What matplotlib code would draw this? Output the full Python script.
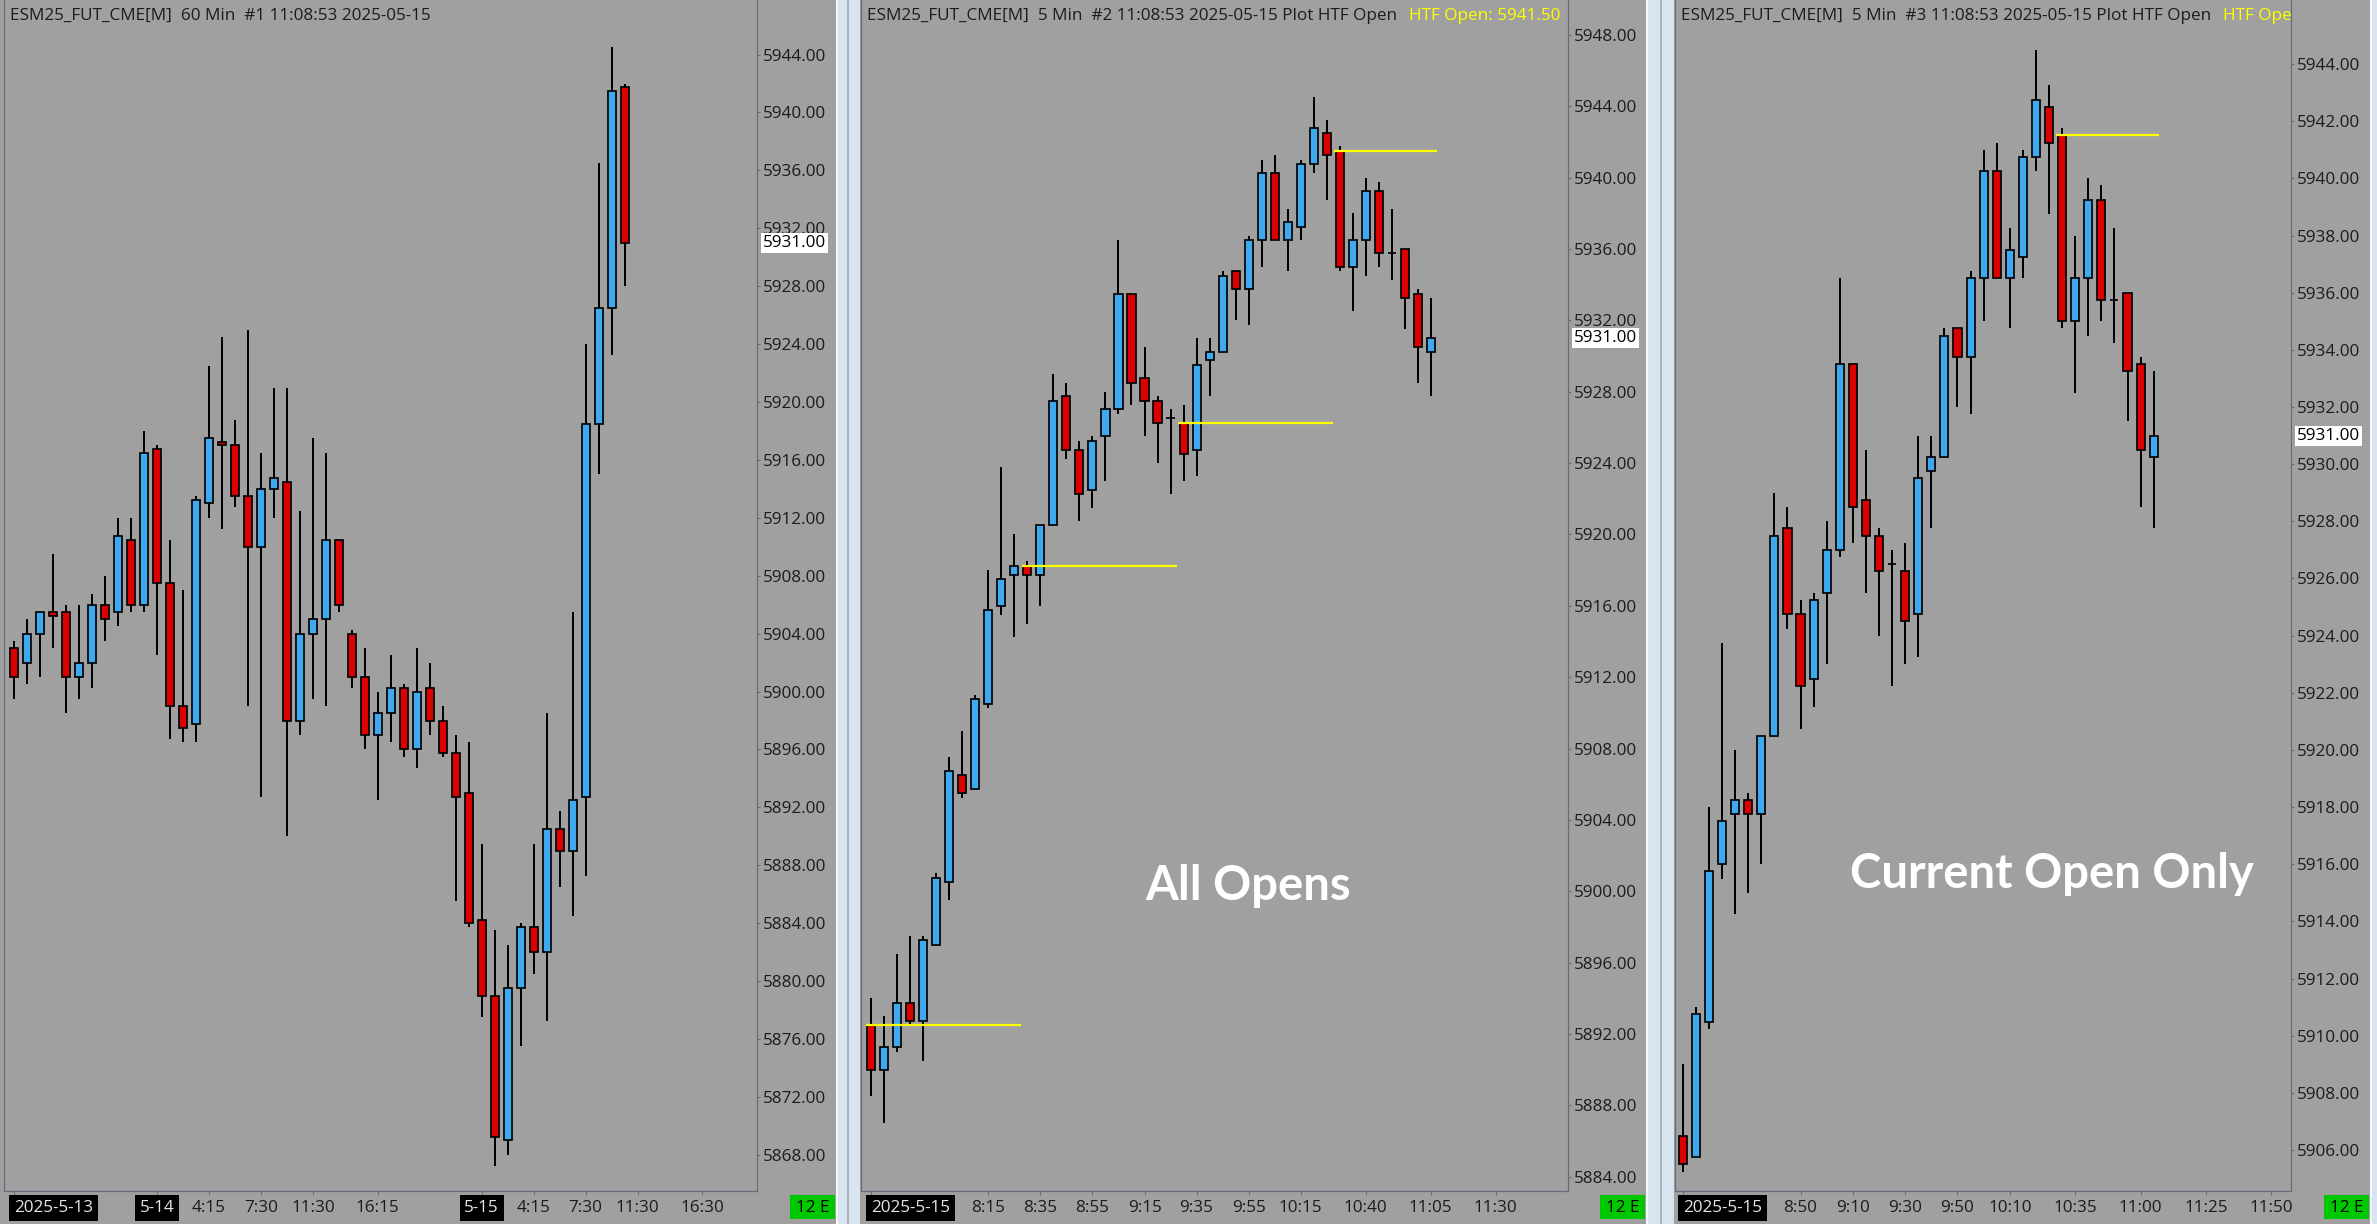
import matplotlib
matplotlib.use('Agg')
import matplotlib.pyplot as plt
import matplotlib.transforms as mtransforms
from matplotlib.patches import Rectangle
import numpy as np

plt.rcParams['font.family'] = ['Open Sans', 'DejaVu Sans']

# ---- 60 min bars (chart #1) ----
h_open = [5903.0, 5902.0, 5904.0, 5905.5, 5905.5, 5901.0, 5902.0, 5906.0, 5905.5, 5910.5,
          5906.0, 5916.75, 5907.5, 5899.0, 5897.75, 5913.0, 5917.25, 5917.0, 5913.5, 5910.0,
          5914.0, 5914.5, 5898.0, 5904.0, 5905.0, 5910.5, 5904.0, 5901.0, 5897.0, 5898.5,
          5900.25, 5896.0, 5900.25, 5898.0, 5895.75, 5893.0, 5884.25, 5879.0, 5869.0, 5879.5,
          5883.75, 5882.0, 5890.5, 5889.0, 5892.75, 5918.5, 5926.5, 5941.75]
h_high = [5903.5, 5905.0, 5905.5, 5909.5, 5906.0, 5906.0, 5906.75, 5908.0, 5912.0, 5912.0,
          5918.0, 5917.0, 5910.5, 5907.0, 5913.5, 5922.5, 5924.5, 5918.75, 5925.0, 5916.5,
          5921.0, 5921.0, 5912.5, 5917.5, 5916.5, 5910.5, 5904.25, 5903.0, 5900.0, 5902.5,
          5900.5, 5903.0, 5902.0, 5899.0, 5897.0, 5896.5, 5889.5, 5883.5, 5882.5, 5884.0,
          5889.5, 5898.5, 5891.75, 5905.5, 5924.0, 5936.5, 5944.5, 5942.0]
h_low = [5899.5, 5900.5, 5901.0, 5903.0, 5898.5, 5899.5, 5900.25, 5903.5, 5904.5, 5905.5,
         5905.5, 5902.5, 5896.75, 5896.5, 5896.5, 5912.0, 5911.25, 5912.75, 5899.0, 5892.75,
         5912.0, 5890.0, 5897.0, 5899.5, 5899.0, 5905.5, 5900.25, 5896.0, 5892.5, 5896.5,
         5895.5, 5894.75, 5897.0, 5895.5, 5885.5, 5883.75, 5877.5, 5867.25, 5868.0, 5875.5,
         5880.5, 5877.25, 5886.5, 5884.5, 5887.25, 5915.0, 5923.25, 5928.0]
h_close = [5901.0, 5904.0, 5905.5, 5905.25, 5901.0, 5902.0, 5906.0, 5905.0, 5910.75, 5906.0,
           5916.5, 5907.5, 5899.0, 5897.5, 5913.25, 5917.5, 5917.0, 5913.5, 5910.0, 5914.0,
           5914.75, 5898.0, 5904.0, 5905.0, 5910.5, 5906.0, 5901.0, 5897.0, 5898.5, 5900.25,
           5896.0, 5900.0, 5898.0, 5895.75, 5892.75, 5884.0, 5879.0, 5869.25, 5879.5, 5883.75,
           5882.0, 5890.5, 5889.0, 5892.5, 5918.5, 5926.5, 5941.5, 5931.0]
h_tick_pos = [0, 11, 15, 19, 23, 28, 36, 40, 44, 48, 53]
h_tick_lab = ['2025-5-13', '5-14', '4:15', '7:30', '11:30', '16:15', '5-15', '4:15', '7:30', '11:30', '16:30']

# ---- 5 min bars from 7:30 (chart #2, chart #3 starts at 8:05) ----
m_open = [5892.5, 5890.0, 5891.25, 5893.75, 5892.75, 5897.0, 5900.5,
          5906.5, 5905.75, 5910.5, 5916.0, 5917.75, 5918.25, 5917.75, 5920.5, 5927.75, 5924.75,
          5922.5, 5925.5, 5927.0, 5933.5, 5928.75, 5927.5, 5926.5, 5926.25, 5924.75, 5929.75,
          5930.25, 5934.75, 5933.75, 5936.5, 5940.25, 5936.5, 5937.25, 5940.75, 5942.5, 5941.5,
          5935.0, 5936.5, 5939.25, 5935.75, 5936.0, 5933.5, 5930.25]
m_high = [5894.0, 5893.0, 5896.5, 5897.5, 5897.5, 5901.0, 5907.5,
          5909.0, 5911.0, 5918.0, 5923.75, 5920.0, 5918.5, 5920.5, 5929.0, 5928.5, 5925.25,
          5925.5, 5928.0, 5936.5, 5933.5, 5930.5, 5927.75, 5927.0, 5927.25, 5931.0, 5931.0,
          5934.75, 5934.75, 5936.75, 5941.0, 5941.25, 5938.25, 5941.0, 5944.5, 5943.25, 5941.75,
          5938.0, 5940.0, 5939.75, 5938.25, 5936.0, 5933.75, 5933.25]
m_low = [5888.5, 5887.0, 5891.0, 5892.5, 5890.5, 5897.0, 5899.5,
         5905.25, 5905.75, 5910.25, 5915.5, 5914.25, 5915.0, 5916.0, 5920.5, 5924.25, 5920.75,
         5921.5, 5923.0, 5926.75, 5927.25, 5925.5, 5924.0, 5922.25, 5923.0, 5923.25, 5927.75,
         5930.25, 5932.0, 5931.75, 5935.0, 5936.5, 5934.75, 5936.5, 5940.25, 5938.75, 5934.75,
         5932.5, 5934.5, 5935.0, 5934.25, 5931.5, 5928.5, 5927.75]
m_close = [5890.0, 5891.25, 5893.75, 5892.75, 5897.25, 5900.75, 5906.75,
           5905.5, 5910.75, 5915.75, 5917.5, 5918.25, 5917.75, 5920.5, 5927.5, 5924.75, 5922.25,
           5925.25, 5927.0, 5933.5, 5928.5, 5927.5, 5926.25, 5926.5, 5924.5, 5929.5, 5930.25,
           5934.5, 5933.75, 5936.5, 5940.25, 5936.5, 5937.5, 5940.75, 5942.75, 5941.25, 5935.0,
           5936.5, 5939.25, 5935.75, 5935.75, 5933.25, 5930.5, 5931.0]
htf_starts = [0, 12, 24, 36]          # 60 min opens at :30
m_tick_pos = [0, 9, 13, 17, 21, 25, 29, 33, 38, 43, 48]
m_tick_lab = ['2025-5-15', '8:15', '8:35', '8:55', '9:15', '9:35', '9:55', '10:15', '10:40', '11:05', '11:30']
c3_start = 7
c3_tick_pos = [0, 9, 13, 17, 21, 25, 30, 35, 40, 45]
c3_tick_lab = ['2025-5-15', '8:50', '9:10', '9:30', '9:50', '10:10', '10:35', '11:00', '11:25', '11:50']

BG = '#a0a0a0'
BLUE = '#3ea9ef'
RED = '#dc0000'
SPINE = '#646c7c'
TXT = '#1c1c1c'
SEP = '#d9e4f1'
FS = 12.3
PX = 0.72          # points per pixel at 100 dpi

W, H = 2377, 1224
fig = plt.figure(figsize=(W / 100, H / 100), dpi=100)
fig.patch.set_facecolor(BG)


def px_axes(x0, x1, y0, y1):
    return fig.add_axes([x0 / W, 1 - y1 / H, (x1 - x0) / W, (y1 - y0) / H])


def draw_candles(ax, o, h, l, c):
    o, h, l, c = map(np.asarray, (o, h, l, c))
    x = np.arange(len(o))
    ax.vlines(x, l, h, color='black', lw=2 * PX, zorder=2)
    colors = np.where(c > o, BLUE, RED)
    ax.bar(x, np.abs(c - o), bottom=np.minimum(o, c), width=0.62, color=colors,
           edgecolor='black', linewidth=1.7 * PX, zorder=3)


def style_panel(ax, xlim, ylim, yticks, tpos, tlab):
    ax.set_facecolor(BG)
    ax.set_xlim(*xlim)
    ax.set_ylim(*ylim)
    for s in ax.spines.values():
        s.set_color(SPINE)
        s.set_linewidth(1.2 * PX)
    ax.spines['top'].set_visible(False)
    ax.yaxis.tick_right()
    ax.set_yticks(yticks)
    ax.set_yticklabels([f'{v:.2f}' for v in yticks])
    ax.tick_params(axis='y', direction='out', length=3 * PX, pad=3 * PX,
                   labelsize=FS, labelcolor=TXT, color=SPINE)
    ax.set_xticks(tpos)
    ax.set_xticklabels(tlab)
    ax.tick_params(axis='x', direction='out', length=4 * PX, pad=5 * PX,
                   labelsize=FS, labelcolor=TXT, color=SPINE)
    for k, lab in enumerate(ax.get_xticklabels()):
        if '-' in lab.get_text():
            lab.set_color('#e6e6e6')
            lab.set_bbox(dict(boxstyle='square,pad=0.28', fc='black', ec='none'))
            if k == 0:
                lab.set_ha('left')


def header(ax, text, extra=None):
    t1 = ax.annotate(text, xy=(0, 1), xycoords='axes fraction', xytext=(6 * PX, -16 * PX),
                     textcoords='offset points', va='center', ha='left', fontsize=FS,
                     color=TXT, clip_on=True)
    if extra:
        ax.annotate(extra, xy=(1, 0.5), xycoords=t1, xytext=(12 * PX, 0),
                    textcoords='offset points', va='center', ha='left', fontsize=FS,
                    color='#ffff00', clip_on=True, annotation_clip=False)


def price_box(ax, last):
    trans = mtransforms.blended_transform_factory(ax.transAxes, ax.transData)
    trans = trans + mtransforms.ScaledTranslation(6 / 100, 0, fig.dpi_scale_trans)
    ax.text(1.0, last, f'{last:.2f}', transform=trans, ha='left', va='center', fontsize=FS,
            color='black', clip_on=False, zorder=10,
            bbox=dict(boxstyle='square,pad=0.12', fc='white', ec='none'))


def bars_label(x1):
    fig.patches.append(Rectangle((x1 - 47, 5), 45, 24, transform=None, fc='#00c800', ec='none'))
    fig.text((x1 - 24.5) / W, 1 - 1208 / H, '12 E', ha='center', va='center',
             fontsize=FS, color='black')


# separators between chart windows
def separator(x0, x1, xm):
    fig.patches.append(Rectangle((x0, 0), x1 - x0, H, transform=None, fc=SEP, ec='none', zorder=-1))
    fig.patches.append(Rectangle((x0 - 1, 0), 1.5, H, transform=None, fc='#f4f7fb', ec='none', zorder=-1))
    if xm:
        fig.patches.append(Rectangle((xm, 0), 2, H, transform=None, fc='#aab2be', ec='none', zorder=-1))


separator(837, 860, 847)
separator(1647, 1674, 1660)
separator(2371, 2377, None)

# ---- chart #1: 60 min ----
ax1 = px_axes(4, 757, 0, 1191)
draw_candles(ax1, h_open, h_high, h_low, h_close)
style_panel(ax1, (-0.78, 57.2), (5865.5, 5947.77), np.arange(5868, 5945, 4),
            h_tick_pos, h_tick_lab)
header(ax1, 'ESM25_FUT_CME[M]  60 Min  #1 11:08:53 2025-05-15')
price_box(ax1, h_close[-1])
bars_label(837)

# ---- chart #2: 5 min, all HTF opens ----
ax2 = px_axes(861, 1568, 0, 1191)
draw_candles(ax2, m_open, m_high, m_low, m_close)
last_i = len(m_open) - 1
for s in htf_starts:
    ax2.hlines(m_open[s], s - 0.4, min(s + 11.5, last_i + 0.5), color='#ffff00',
               lw=2.2 * PX, zorder=4)
style_panel(ax2, (-0.79, 53.55), (5883.2, 5949.95), np.arange(5884, 5949, 4),
            m_tick_pos, m_tick_lab)
header(ax2, 'ESM25_FUT_CME[M]  5 Min  #2 11:08:53 2025-05-15 Plot HTF Open',
       f'HTF Open: {m_open[htf_starts[-1]]:.2f}')
price_box(ax2, m_close[-1])
bars_label(1647)
fig.text(1248 / W, 1 - 900 / H, 'All Opens', ha='center', va='baseline', fontsize=34,
         fontweight='bold', family=['Lato', 'DejaVu Sans'], color='white')

# ---- chart #3: 5 min, current HTF open only ----
ax3 = px_axes(1675, 2291, 0, 1191)
draw_candles(ax3, m_open[c3_start:], m_high[c3_start:], m_low[c3_start:], m_close[c3_start:])
cur = htf_starts[-1] - c3_start
ax3.hlines(m_open[htf_starts[-1]], cur - 0.5, last_i - c3_start + 0.4, color='#ffff00',
           lw=2.2 * PX, zorder=4)
style_panel(ax3, (-0.6, 46.5), (5904.57, 5946.24), np.arange(5906, 5945, 2),
            c3_tick_pos, c3_tick_lab)
header(ax3, 'ESM25_FUT_CME[M]  5 Min  #3 11:08:53 2025-05-15 Plot HTF Open',
       f'HTF Open: {m_open[htf_starts[-1]]:.2f}')
price_box(ax3, m_close[-1])
bars_label(2371)
fig.text(2052 / W, 1 - 888 / H, 'Current Open Only', ha='center', va='baseline', fontsize=34,
         fontweight='bold', family=['Lato', 'DejaVu Sans'], color='white')

fig.savefig('out.png', dpi=100, facecolor=BG)
